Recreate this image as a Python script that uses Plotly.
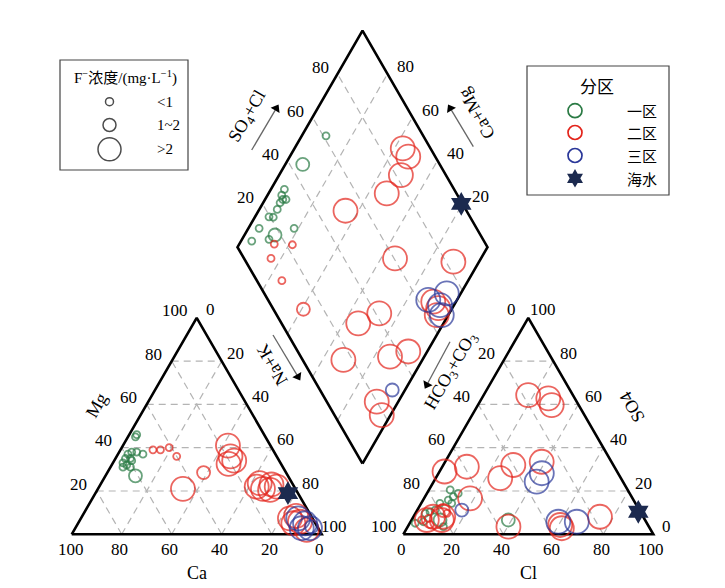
import numpy as np
import plotly.graph_objects as go

S3 = np.sqrt(3) / 2
G = 0.3264  # gap between the two triangles (triangle side = 1)

# ---------------- data (percent of meq) ----------------
F_SIZE = {"<1": 7, "1~2": 13, ">2": 24}

# Cation triangle: Ca %, Mg %  (Na+K = 100 - Ca - Mg)
cat_ca_z1 = [51, 52, 57, 55, 53, 59, 61, 59, 63, 62, 59, 64, 61, 61]
cat_mg_z1 = [46, 45, 38, 38, 37, 37, 35, 35, 33, 32, 34, 31, 31, 27]
cat_f_z1 = ["<1", "<1", "<1", "<1", "<1", "<1", "<1", "<1", "<1", "<1", "<1", "<1", "<1", "1~2"]

cat_ca_z2 = [48, 45, 41, 40, 33, 45, 17, 18.5, 18, 21, 15, 13, 13, 8.6, 10.4, 7, 9, 8.8, 5.8, 5, 6]
cat_mg_z2 = [39, 39, 40, 36, 28.5, 21, 41, 36, 34, 32.5, 22, 21, 23.6, 23, 20.5, 22, 7.4, 5.1, 5.8, 2, 8.5]
cat_f_z2 = ["<1", "<1", "<1", "<1", "1~2", ">2", ">2", ">2", ">2", ">2", ">2", ">2", ">2",
            ">2", ">2", ">2", ">2", ">2", ">2", ">2", ">2"]

cat_ca_z3 = [5.7, 4.1, 3.3, 6.6, 2.3]
cat_mg_z3 = [7.4, 5.1, 2.8, 2.8, 3.5]
cat_f_z3 = [">2", ">2", ">2", ">2", "1~2"]

sea_ca, sea_mg = 4, 19

# Anion triangle: Cl %, SO4 %  (HCO3+CO3 = 100 - Cl - SO4)
an_cl_z1 = [8.5, 11.3, 12.5, 10.1, 12.2, 7.5, 7.1, 5.5, 3.9, 2.2, 5.1, 14.3, 11.4, 38.7]
an_so4_z1 = [20.5, 17.4, 18.9, 15.8, 14.3, 14.3, 11.2, 10.4, 9.7, 5.1, 5.8, 3.5, 6.6, 6.6]
an_f_z1 = ["<1", "<1", "<1", "<1", "<1", "<1", "<1", "<1", "<1", "<1", "<1", "<1", "1~2", "1~2"]

an_cl_z2 = [4, 6.3, 12.6, 8.5, 10.5, 17.8, 26.6, 29.5, 2, 9.8, 25.8, 28, 38.6, 18.4, 7.9,
            12.1, 6.1, 11.9, 40.3, 60.6, 62, 74.6]
an_so4_z2 = [6.6, 7.4, 9.7, 4.5, 11, 64.3, 62.8, 59.7, 29, 31.2, 25.9, 32, 33.5, 16.6, 8.1,
             6.6, 6.6, 8.1, 3.5, 4.3, 2.8, 8.1]
an_f_z2 = ["<1", "<1", "<1", "<1", "1~2", ">2", ">2", ">2", ">2", ">2", ">2", ">2", ">2",
           ">2", ">2", ">2", ">2", ">2", ">2", ">2", ">2", ">2"]

an_cl_z3 = [41.3, 41.2, 59.1, 66.5, 17.8]
an_so4_z3 = [28.2, 24.3, 5.8, 5.8, 11.2]
an_f_z3 = [">2", ">2", ">2", ">2", "1~2"]

sea_cl, sea_so4 = 88.8, 10.4

# Diamond: SO4+Cl %, Ca+Mg %
dia_a_z1 = [61.1, 32.1, 29.7, 29.1, 30.4, 27.3, 24.6, 21.2, 19.6, 13, 27, 7.1, 14.4, 45.2, 17.8]
dia_b_z1 = [90.3, 94.6, 94.3, 92.9, 91.6, 93.2, 92.8, 92.6, 94.4, 95.7, 81.7, 95.7, 89.2, 93, 87.8]
dia_f_z1 = ["<1", "<1", "<1", "<1", "<1", "<1", "<1", "<1", "<1", "<1", "<1", "<1", "<1", "1~2", "1~2"]

dia_a_z2 = [15.4, 22.5, 10.8, 10, 12, 51.6, 88.9, 89.2, 82, 72.1, 60.4, 83, 41.4, 30.7, 16.3,
            35.7, 44.2, 20, 18.9, 65.7, 66.2, 64]
dia_b_z2 = [86, 78.6, 84, 74.5, 59.3, 65.2, 56.7, 52.6, 51.3, 52.7, 34.4, 10.3, 28, 34.1, 31.6,
            13.7, 7.6, 8.6, 3.5, 9.1, 5.6, 4.6]
dia_f_z2 = ["<1", "<1", "<1", "<1", "1~2", ">2", ">2", ">2", ">2", ">2", ">2", ">2", ">2",
            ">2", ">2", ">2", ">2", ">2", ">2", ">2", ">2", ">2"]

dia_a_z3 = [64.1, 73, 66, 67.6, 28.9]
dia_b_z3 = [11.5, 5.6, 2.6, 5.6, 5.1]
dia_f_z3 = [">2", ">2", ">2", ">2", "1~2"]

sea_a, sea_b = 99.5, 20.5

GRID = [20, 40, 60, 80]
ZONES = ["一区", "二区", "三区"]
ZONE_COLORS = ["#2a7a44", "#e3241b", "#2a3799"]
SEA_COLOR = "#1c2a4f"

# ---------------- projections ----------------
def cat_xy(ca, mg):
    ca, mg = np.asarray(ca, float), np.asarray(mg, float)
    na = 100 - ca - mg
    return (na + mg / 2) / 100, mg / 100 * S3

def an_xy(cl, so4):
    cl, so4 = np.asarray(cl, float), np.asarray(so4, float)
    return 1 + G + (cl + so4 / 2) / 100, so4 / 100 * S3

def dia_xy(a, b):
    a, b = np.asarray(a, float), np.asarray(b, float)
    return 1 + G / 2 + 0.5 * (a - b) / 100, G * S3 + S3 * (a + b) / 100

# layout helpers (pixel placement of legend/labels)
X0PX, Y0PX, SCALE = 71.7, 534.3, 250.0
W, H = 725, 588
def px(xp, yp):
    return (xp - X0PX) / SCALE, (Y0PX - yp) / SCALE

fig = go.Figure()

def add_line(xs, ys, color, width, dash=None):
    fig.add_trace(go.Scatter(x=list(xs), y=list(ys), mode="lines",
                             line=dict(color=color, width=width, dash=dash),
                             hoverinfo="skip", showlegend=False))

# grid lines
gc, gw, gd = "#b4b4b4", 1.2, "7px,5px"
for k in GRID:
    for (p, q) in [((100 - k, k), (0, k)), ((k, 0), (k, 100 - k)), ((100 - k, 0), (0, 100 - k))]:
        x, y = cat_xy([p[0], q[0]], [p[1], q[1]])
        add_line(x, y, gc, gw, gd)
    for (p, q) in [((0, k), (100 - k, k)), ((k, 0), (k, 100 - k)), ((100 - k, 0), (0, 100 - k))]:
        x, y = an_xy([p[0], q[0]], [p[1], q[1]])
        add_line(x, y, gc, gw, gd)
    x, y = dia_xy([k, k], [0, 100]); add_line(x, y, gc, gw, gd)
    x, y = dia_xy([0, 100], [k, k]); add_line(x, y, gc, gw, gd)

# outlines
ow = 2.6
x, y = cat_xy([100, 0, 0, 100], [0, 0, 100, 0]); add_line(x, y, "black", ow)
x, y = an_xy([0, 100, 0, 0], [0, 0, 100, 0]); add_line(x, y, "black", ow)
x, y = dia_xy([0, 100, 100, 0, 0], [0, 0, 100, 100, 0]); add_line(x, y, "black", ow)

# samples
def add_pts(xy, fcls, color):
    x, y = xy
    fig.add_trace(go.Scatter(x=x, y=y, mode="markers",
                             marker=dict(symbol="circle-open", size=[F_SIZE[f] for f in fcls],
                                         color=color, line=dict(width=1.8, color=color)),
                             hoverinfo="skip", showlegend=False))

add_pts(cat_xy(cat_ca_z1, cat_mg_z1), cat_f_z1, ZONE_COLORS[0])
add_pts(cat_xy(cat_ca_z2, cat_mg_z2), cat_f_z2, ZONE_COLORS[1])
add_pts(cat_xy(cat_ca_z3, cat_mg_z3), cat_f_z3, ZONE_COLORS[2])
add_pts(an_xy(an_cl_z1, an_so4_z1), an_f_z1, ZONE_COLORS[0])
add_pts(an_xy(an_cl_z2, an_so4_z2), an_f_z2, ZONE_COLORS[1])
add_pts(an_xy(an_cl_z3, an_so4_z3), an_f_z3, ZONE_COLORS[2])
add_pts(dia_xy(dia_a_z1, dia_b_z1), dia_f_z1, ZONE_COLORS[0])
add_pts(dia_xy(dia_a_z2, dia_b_z2), dia_f_z2, ZONE_COLORS[1])
add_pts(dia_xy(dia_a_z3, dia_b_z3), dia_f_z3, ZONE_COLORS[2])

# seawater
sx = [float(cat_xy(sea_ca, sea_mg)[0]), float(an_xy(sea_cl, sea_so4)[0]), float(dia_xy(sea_a, sea_b)[0])]
sy = [float(cat_xy(sea_ca, sea_mg)[1]), float(an_xy(sea_cl, sea_so4)[1]), float(dia_xy(sea_a, sea_b)[1])]
fig.add_trace(go.Scatter(x=sx, y=sy, mode="markers",
                         marker=dict(symbol="hexagram", size=18, color=SEA_COLOR,
                                     line=dict(width=0)),
                         hoverinfo="skip", showlegend=False))

# ---------------- text ----------------
SERIF = "Liberation Serif, Times New Roman, Noto Sans CJK SC, serif"
CJK = "Noto Sans CJK SC, Liberation Serif, serif"
ann = []

def label(x, y, text, dx=0, dy=0, size=17, angle=0, family=SERIF, xanchor="center"):
    ann.append(dict(x=float(x), y=float(y), xref="x", yref="y", text=text, showarrow=False,
                    xshift=dx, yshift=dy, textangle=angle, xanchor=xanchor, yanchor="middle",
                    font=dict(family=family, size=size, color="black")))

ticks = [0, 20, 40, 60, 80, 100]
for t in ticks:
    x, y = cat_xy(t, 0); label(x, y, str(t), dx=-2 if t < 100 else -1, dy=-15)
    if t > 0:
        x, y = cat_xy(100 - t, t); label(x, y, str(t), dx=-18 if t < 100 else -22, dy=7)
    x, y = cat_xy(0, 100 - t); label(x, y, str(t), dx=14 if t < 100 else 12, dy=8)
    x, y = an_xy(t, 0); label(x, y, str(t), dx=-2, dy=-15)
    x, y = an_xy(0, 100 - t); label(x, y, str(t), dx=-17 if t < 100 else -19, dy=8)
    x, y = an_xy(100 - t, t); label(x, y, str(t), dx=15 if t > 0 else 13, dy=8)

for t in GRID:
    x, y = dia_xy(t, 100); label(x, y, str(t), dx=-17, dy=6)
    x, y = dia_xy(100, t); label(x, y, str(t), dx=18, dy=7)

# axis titles
x, y = px(96.7, 405); label(x, y, "Mg", angle=-60, size=18)
x, y = px(196.7, 573); label(x, y, "Ca", size=18)
x, y = px(528.3, 573); label(x, y, "Cl", size=18)
x, y = px(272, 365); label(x, y, "Na+K", angle=-120, size=18)
x, y = px(631.7, 407.5); label(x, y, "SO4", angle=-120, size=18)
x, y = px(476.7, 113.3); label(x, y, "Ca+Mg", angle=-120, size=18)
x, y = px(248.3, 116.7); label(x, y, "SO<sub>4</sub>+Cl", angle=-60, size=18)
x, y = px(451, 371); label(x, y, "HCO<sub>3</sub>+CO<sub>3</sub>", angle=-60, size=18)

# direction arrows: grey shaft + black triangular head
def arrow(head_px, tail_px):
    hx, hy = head_px
    tx, ty = tail_px
    dx, dy = hx - tx, hy - ty
    L = np.hypot(dx, dy)
    ux, uy = dx / L, dy / L
    shaft_end = (hx - ux * 6, hy - uy * 6)
    a, b = px(tx, ty)
    c, d = px(*shaft_end)
    add_line([a, c], [b, d], "#666666", 1.3)
    m = px(hx - ux * 4, hy - uy * 4)
    ang = float(np.degrees(np.arctan2(dx, -dy)))
    fig.add_trace(go.Scatter(x=[m[0]], y=[m[1]], mode="markers",
                             marker=dict(symbol="triangle-up", size=9, angle=ang, color="black",
                                         line=dict(width=0)),
                             hoverinfo="skip", showlegend=False))

arrow((300, 380), (273, 335))
arrow((278.3, 105), (251.7, 150))
arrow((448.3, 105), (473.3, 146.7))
arrow((425, 388.3), (450, 341.7))

# legend 1 : F- concentration
shapes = []
shapes.append(dict(type="rect", xref="paper", yref="paper", x0=60 / W, x1=188 / W,
                   y0=1 - 170 / H, y1=1 - 60 / H, line=dict(color="#444", width=1.2)))
x, y = px(125, 77)
label(x, y, "F<sup>−</sup>浓度/(mg·L<sup>−1</sup>)", size=15)
leg_f_y = [101.7, 125, 149.3]
leg_f_txt = ["&lt;1", "1~2", "&gt;2"]
lx, ly = [], []
for yy in leg_f_y:
    a, b = px(109.5, yy); lx.append(a); ly.append(b)
fig.add_trace(go.Scatter(x=lx, y=ly, mode="markers",
                         marker=dict(symbol="circle-open", size=[8, 13, 23], color="black",
                                     line=dict(width=1.5, color="black")),
                         hoverinfo="skip", showlegend=False))
for yy, t in zip(leg_f_y, leg_f_txt):
    x, y = px(155, yy); label(x, y, t, size=15, xanchor="left")

# legend 2 : zones
shapes.append(dict(type="rect", xref="paper", yref="paper", x0=527 / W, x1=669 / W,
                   y0=1 - 195 / H, y1=1 - 66 / H, line=dict(color="#444", width=1.2)))
x, y = px(597, 85); label(x, y, "分区", size=17, family=CJK)
leg_z_y = [110.7, 132.5, 155.5, 178.3]
for i, (yy, name) in enumerate(zip(leg_z_y, ZONES + ["海水"])):
    a, b = px(575, yy)
    if i < 3:
        fig.add_trace(go.Scatter(x=[a], y=[b], mode="markers",
                                 marker=dict(symbol="circle-open", size=14, color=ZONE_COLORS[i],
                                             line=dict(width=1.7, color=ZONE_COLORS[i])),
                                 hoverinfo="skip", showlegend=False))
    else:
        fig.add_trace(go.Scatter(x=[a], y=[b], mode="markers",
                                 marker=dict(symbol="hexagram", size=14, color=SEA_COLOR),
                                 hoverinfo="skip", showlegend=False))
    x, y = px(641.7, yy); label(x, y, name, size=15, family=CJK)

xr = [-X0PX / SCALE, (W - X0PX) / SCALE]
yr = [(Y0PX - H) / SCALE, Y0PX / SCALE]
fig.update_layout(
    width=W, height=H, margin=dict(l=0, r=0, t=0, b=0),
    paper_bgcolor="white", plot_bgcolor="white",
    xaxis=dict(range=xr, visible=False, fixedrange=True),
    yaxis=dict(range=yr, visible=False, fixedrange=True),
    annotations=ann, shapes=shapes, showlegend=False,
)
fig.write_html("out.html", config={"displayModeBar": False},
               post_script="document.body.style.margin='0px';document.body.style.overflow='hidden';")
